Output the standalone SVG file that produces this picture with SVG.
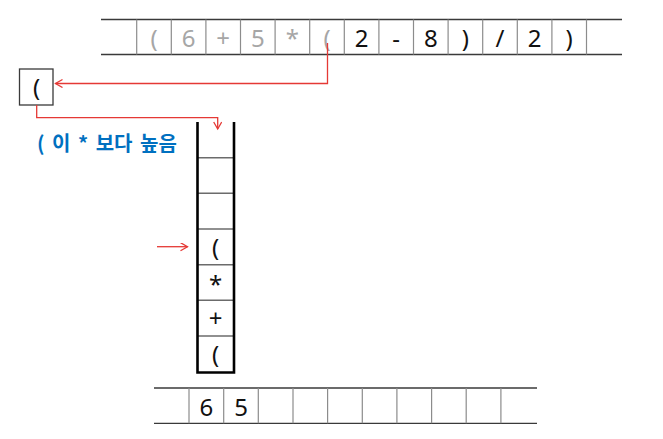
<svg xmlns="http://www.w3.org/2000/svg" width="663" height="439" viewBox="0 0 663 439">
<defs>
<style>
.hl{stroke:#3a3a3a;stroke-width:1.3;fill:none}
.vl{stroke:#8c8c8c;stroke-width:1.2;fill:none}
.t{font-family:"Noto Sans","Open Sans","DejaVu Sans",sans-serif;font-size:24px;text-anchor:middle;fill:#111}
.g{fill:#a6a6a6}
.red{stroke:#e53935;stroke-width:1.3;fill:none}
.side{stroke:#000;stroke-width:2.6;fill:none}
.sdiv{stroke:#6b6b6b;stroke-width:1.4;fill:none}
.note{font-family:"Noto Sans CJK KR","Noto Sans",sans-serif;font-weight:bold;font-size:20px;word-spacing:3px;fill:#0070c0}
</style>
<marker id="ah" markerWidth="10" markerHeight="10" refX="8" refY="4" orient="auto" markerUnits="userSpaceOnUse">
<path d="M1,0 L8,4 L1,8" stroke="#e53935" stroke-width="1.3" fill="none"/>
</marker>
</defs>
<rect width="663" height="439" fill="#fff"/>

<g id="input-row">
<line class="hl" x1="101" y1="19.5" x2="622" y2="19.5"/>
<line class="hl" x1="101" y1="54.5" x2="622" y2="54.5"/>
<g class="vl">
<line x1="136.7" y1="19.5" x2="136.7" y2="54.5"/>
<line x1="171.3" y1="19.5" x2="171.3" y2="54.5"/>
<line x1="205.9" y1="19.5" x2="205.9" y2="54.5"/>
<line x1="240.5" y1="19.5" x2="240.5" y2="54.5"/>
<line x1="275.1" y1="19.5" x2="275.1" y2="54.5"/>
<line x1="309.7" y1="19.5" x2="309.7" y2="54.5"/>
<line x1="344.3" y1="19.5" x2="344.3" y2="54.5"/>
<line x1="378.9" y1="19.5" x2="378.9" y2="54.5"/>
<line x1="413.5" y1="19.5" x2="413.5" y2="54.5"/>
<line x1="448.1" y1="19.5" x2="448.1" y2="54.5"/>
<line x1="482.7" y1="19.5" x2="482.7" y2="54.5"/>
<line x1="517.3" y1="19.5" x2="517.3" y2="54.5"/>
<line x1="551.9" y1="19.5" x2="551.9" y2="54.5"/>
<line x1="586.5" y1="19.5" x2="586.5" y2="54.5"/>
</g>
<text class="t g" x="154" y="47">(</text>
<text class="t g" x="188.6" y="47">6</text>
<text class="t g" x="223.2" y="47">+</text>
<text class="t g" x="257.8" y="47">5</text>
<text class="t g" x="292.4" y="47">*</text>
<text class="t g" x="327" y="47">(</text>
<text class="t" x="361.6" y="47">2</text>
<text class="t" x="396.2" y="47">-</text>
<text class="t" x="430.8" y="47">8</text>
<text class="t" x="465.4" y="47">)</text>
<text class="t" x="500" y="47">/</text>
<text class="t" x="534.6" y="47">2</text>
<text class="t" x="569.2" y="47">)</text>
</g>

<g id="current-token">
<rect x="19.5" y="69" width="33.5" height="36" fill="#fff" stroke="#3a3a3a" stroke-width="1.3"/>
<text class="t" x="36.5" y="96">(</text>
</g>

<g id="note">
<text class="note" x="37" y="151">( 이 * 보다 높음</text>
</g>

<g id="stack">
<line class="sdiv" x1="197.5" y1="157.7" x2="234" y2="157.7"/>
<line class="sdiv" x1="197.5" y1="193.3" x2="234" y2="193.3"/>
<line class="sdiv" x1="197.5" y1="229" x2="234" y2="229"/>
<line class="sdiv" x1="197.5" y1="264.7" x2="234" y2="264.7"/>
<line class="sdiv" x1="197.5" y1="300.3" x2="234" y2="300.3"/>
<line class="sdiv" x1="197.5" y1="336" x2="234" y2="336"/>
<path class="side" d="M197.5,122 V372.5 H234 V122"/>
<text class="t" x="215.7" y="256">(</text>
<text class="t" x="215.7" y="293">*</text>
<text class="t" x="215.7" y="327">+</text>
<text class="t" x="215.7" y="363">(</text>
</g>

<g id="output-row">
<line class="hl" x1="154" y1="388" x2="537" y2="388"/>
<line class="hl" x1="154" y1="423.3" x2="537" y2="423.3"/>
<g class="vl">
<line x1="189" y1="388" x2="189" y2="423.3"/>
<line x1="223.7" y1="388" x2="223.7" y2="423.3"/>
<line x1="258.3" y1="388" x2="258.3" y2="423.3"/>
<line x1="293" y1="388" x2="293" y2="423.3"/>
<line x1="327.6" y1="388" x2="327.6" y2="423.3"/>
<line x1="362.3" y1="388" x2="362.3" y2="423.3"/>
<line x1="396.9" y1="388" x2="396.9" y2="423.3"/>
<line x1="431.6" y1="388" x2="431.6" y2="423.3"/>
<line x1="466.2" y1="388" x2="466.2" y2="423.3"/>
<line x1="500.9" y1="388" x2="500.9" y2="423.3"/>
</g>
<text class="t" x="206.3" y="416">6</text>
<text class="t" x="241" y="416">5</text>
</g>

<g id="connectors">
<path class="red" d="M327.5,43 V83.5 H55.5" marker-end="url(#ah)"/>
<path class="red" d="M36.7,105 V117.7 H217.7 V129" marker-end="url(#ah)"/>
<path class="red" d="M157,246.7 H187.5" marker-end="url(#ah)"/>
</g>
</svg>
